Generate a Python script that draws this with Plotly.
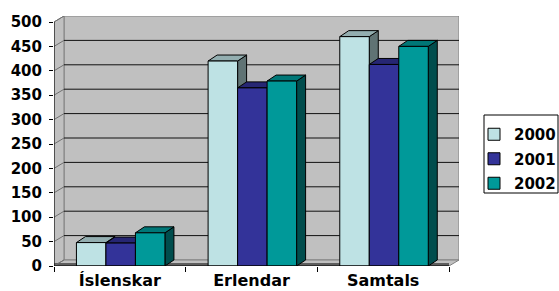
import plotly.graph_objects as go

# ---- data ----
categories = ["Íslenskar", "Erlendar", "Samtals"]
years = ["2000", "2001", "2002"]
values_2000 = [48, 420, 470]
values_2001 = [47, 365, 413]
values_2002 = [68, 379, 450]
y_ticks = [0, 50, 100, 150, 200, 250, 300, 350, 400, 450, 500]

series = [values_2000, values_2001, values_2002]
front_colors = ["#BEE2E4", "#333399", "#009999"]
top_colors = ["#93AEB0", "#262673", "#007777"]
side_colors = ["#607374", "#1A1A4D", "#004D4D"]

# ---- geometry (pixels) ----
W, H = 559, 291
L, R, T, B = 54, 459, 16, 266
cat_px = (449 - L) / 3.0           # pixels per category
ky = (B - 22) / 500.0               # pixels per value unit
x_range = [-0.5, -0.5 + (R - L) / cat_px]
y_range = [0, (B - T) / ky]

def dxu(px):
    return px / cat_px

def dyu(px):
    return px / ky

wall_dx, wall_dy = dxu(10), dyu(6)
bar_dx, bar_dy = dxu(9), dyu(6)
bw = dxu(29.5)
start = dxu(-43.4)

fig = go.Figure()
shapes = []

def path(pts):
    return "M " + " L ".join(f"{x},{y}" for x, y in pts) + " Z"

# back wall
shapes.append(dict(type="rect", xref="x", yref="y", layer="below",
                   x0=-0.5 + wall_dx, x1=x_range[1], y0=wall_dy, y1=y_range[1],
                   fillcolor="#C0C0C0", line=dict(color="#808080", width=1)))
# side wall
shapes.append(dict(type="path", xref="x", yref="y", layer="below",
                   path=path([(-0.5, 0), (-0.5, 500), (-0.5 + wall_dx, 500 + wall_dy), (-0.5 + wall_dx, wall_dy)]),
                   fillcolor="#C0C0C0", line=dict(color="#808080", width=1)))
# floor
shapes.append(dict(type="path", xref="x", yref="y", layer="below",
                   path=path([(-0.5, 0), (2.5, 0), (2.5 + wall_dx, wall_dy), (-0.5 + wall_dx, wall_dy)]),
                   fillcolor="#C0C0C0", line=dict(color="#808080", width=1)))
shapes.append(dict(type="rect", xref="x", yref="y", layer="below",
                   x0=-0.5, x1=2.5, y0=0, y1=dyu(3),
                   fillcolor="#5E5E5E", line=dict(width=0)))
# gridlines
for v in y_ticks:
    if 0 < v < 500:
        shapes.append(dict(type="line", xref="x", yref="y", layer="below",
                           x0=-0.5 + wall_dx, x1=x_range[1], y0=v + wall_dy, y1=v + wall_dy,
                           line=dict(color="#111111", width=1)))
    shapes.append(dict(type="line", xref="x", yref="y", layer="below",
                       x0=-0.5, x1=-0.5 + wall_dx, y0=v, y1=v + wall_dy,
                       line=dict(color="#707070", width=1)))

# bars (front faces) + 3D faces
for k, (yr, vals) in enumerate(zip(years, series)):
    off = start + k * bw
    fig.add_trace(go.Bar(
        x=list(range(len(categories))), y=vals, name=yr,
        width=bw, offset=off, legendgroup=yr,
        marker=dict(color=front_colors[k], line=dict(color="black", width=1)),
    ))

for i in range(len(categories)):
    for k, vals in enumerate(series):
        v = vals[i]
        x0 = i + start + k * bw
        x1 = x0 + bw
        shapes.append(dict(type="path", xref="x", yref="y", layer="below",
                           path=path([(x1, 0), (x1, v), (x1 + bar_dx, v + bar_dy), (x1 + bar_dx, bar_dy)]),
                           fillcolor=side_colors[k], line=dict(color="black", width=1)))
        shapes.append(dict(type="path", xref="x", yref="y", layer="below",
                           path=path([(x0, v), (x1, v), (x1 + bar_dx, v + bar_dy), (x0 + bar_dx, v + bar_dy)]),
                           fillcolor=top_colors[k], line=dict(color="black", width=1)))

# axis lines
shapes.append(dict(type="line", xref="x", yref="y", layer="above",
                   x0=-0.5, x1=-0.5, y0=0, y1=500, line=dict(color="black", width=1)))
shapes.append(dict(type="line", xref="x", yref="y", layer="above",
                   x0=-0.5, x1=2.5, y0=0, y1=0, line=dict(color="black", width=1)))

# legend box
shapes.append(dict(type="rect", xref="paper", yref="paper", layer="above",
                   x0=(484 - L) / (R - L), x1=(558 - L) / (R - L),
                   y0=(B - 193) / (B - T), y1=(B - 115) / (B - T),
                   line=dict(color="black", width=1), fillcolor="rgba(0,0,0,0)"))

font = dict(family="DejaVu Sans", size=15, color="black", weight="bold")
xfont = dict(family="DejaVu Sans", size=16, color="black", weight="bold")

fig.update_layout(
    width=W, height=H,
    margin=dict(l=L, r=W - R, t=T, b=H - B, autoexpand=False),
    paper_bgcolor="white", plot_bgcolor="white",
    barmode="overlay",
    showlegend=True,
    shapes=shapes,
    font=font,
    legend=dict(x=(474 - L) / (R - L), y=(B - 118) / (B - T), xanchor="left", yanchor="top",
                bgcolor="rgba(0,0,0,0)", borderwidth=0, font=font,
                tracegroupgap=2),
    xaxis=dict(range=x_range, tickvals=list(range(len(categories))), ticktext=categories,
               ticks="", showgrid=False, zeroline=False, showline=False,
               tickfont=xfont, ticklabelstandoff=3,
               minor=dict(ticks="outside", ticklen=5, tickcolor="black", tick0=0.5, dtick=1, showgrid=False)),
    yaxis=dict(range=y_range, tickvals=y_ticks, ticks="outside", ticklen=4, tickcolor="black",
               showgrid=False, zeroline=False, showline=False, tickfont=font, ticklabelstandoff=4),
)

fig.write_html("out.html",
               config={"displayModeBar": False},
               post_script="document.body.style.margin='0';document.body.style.overflow='hidden';")
